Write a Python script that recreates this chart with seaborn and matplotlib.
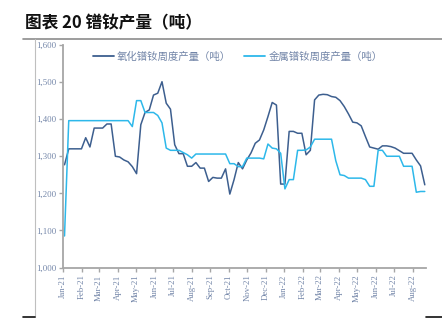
import matplotlib
matplotlib.use("Agg")
import matplotlib.pyplot as plt
import matplotlib.dates as mdates
from matplotlib.lines import Line2D
import seaborn as sns
import pandas as pd
import numpy as np

# ---- data ----
dates = pd.date_range("2021-01-03", periods=86, freq="7D")
oxide = [1277, 1320, 1320, 1320, 1320, 1350, 1325, 1376, 1376, 1376,
         1387, 1387, 1300, 1298, 1290, 1285, 1272, 1253, 1385, 1418,
         1425, 1465, 1470, 1501, 1443, 1427, 1331, 1307, 1307, 1273,
         1273, 1283, 1268, 1268, 1232, 1243, 1241, 1241, 1266, 1198,
         1237, 1283, 1266, 1290, 1309, 1335, 1344, 1371, 1407, 1445,
         1438, 1225, 1225, 1367, 1367, 1362, 1362, 1304, 1316, 1452,
         1465, 1467, 1466, 1461, 1459, 1450, 1434, 1414, 1392, 1390,
         1382, 1353, 1325, 1322, 1319, 1328, 1328, 1326, 1322, 1315,
         1308, 1308, 1308, 1290, 1274, 1223]
metal = [1085, 1396, 1396, 1396, 1396, 1396, 1396, 1396, 1396, 1396,
         1396, 1396, 1396, 1396, 1396, 1396, 1380, 1450, 1450, 1418,
         1418, 1418, 1410, 1390, 1322, 1316, 1316, 1316, 1310, 1304,
         1295, 1306, 1306, 1306, 1306, 1306, 1306, 1306, 1306, 1280,
         1280, 1272, 1272, 1295, 1295, 1295, 1295, 1293, 1333, 1322,
         1320, 1308, 1212, 1237, 1237, 1316, 1316, 1317, 1325, 1346,
         1346, 1346, 1346, 1346, 1288, 1250, 1248, 1241, 1241, 1241,
         1241, 1237, 1219, 1219, 1316, 1316, 1300, 1300, 1300, 1300,
         1273, 1273, 1273, 1203, 1205, 1205]
series_names = ["氧化镨钕周度产量（吨）", "金属镨钕周度产量（吨）"]
title_text = "图表 20 镨钕产量（吨）"
y_ticks = [1000, 1100, 1200, 1300, 1400, 1500, 1600]

df = pd.DataFrame({
    "date": list(dates) * 2,
    "value": oxide + metal,
    "series": [series_names[0]] * len(oxide) + [series_names[1]] * len(metal),
})

# ---- style ----
sns.set_theme(style="white")
plt.rcParams["font.family"] = ["Noto Sans CJK SC", "DejaVu Sans"]

colors = {series_names[0]: "#3D5F8F", series_names[1]: "#2DB8EA"}
axis_gray = "#A6A6A6"
label_col = "#7285A8"

fig = plt.figure(figsize=(4.42, 3.23), dpi=100)
ax = fig.add_axes([63.3 / 442, 1 - 267.5 / 323, (426 - 63.3) / 442, (267.5 - 45) / 323])

sns.lineplot(data=df, x="date", y="value", hue="series", palette=colors,
             linewidth=1.1, ax=ax, legend=False)

ax.set_ylim(1000, 1600)
ax.set_yticks(y_ticks)
ax.set_yticklabels([f"{v:,}" for v in y_ticks], fontfamily="Liberation Serif",
                   fontsize=6.3, color=label_col)
ax.set_xlim(pd.Timestamp("2021-01-01"), pd.Timestamp("2022-08-23"))
ax.xaxis.set_major_locator(mdates.MonthLocator())
ax.xaxis.set_major_formatter(mdates.DateFormatter("%b-%y"))
for lab in ax.get_xticklabels():
    lab.set_rotation(90)
    lab.set_fontfamily("Liberation Serif")
    lab.set_fontsize(6.3)
    lab.set_color(label_col)
ax.set_xlabel("")
ax.set_ylabel("")
ax.grid(False)
for s in ["top", "right"]:
    ax.spines[s].set_visible(False)
for s in ["left", "bottom"]:
    ax.spines[s].set_color(axis_gray)
    ax.spines[s].set_linewidth(1.3)
ax.tick_params(axis="both", which="major", direction="out", length=3,
               width=1, color=axis_gray, pad=2, left=True, bottom=True)

handles = [Line2D([0], [0], color=colors[n], lw=1.3) for n in series_names]
leg = ax.legend(handles, series_names, ncol=2, frameon=False,
                loc="center left", bbox_to_anchor=(0.071, 0.946),
                fontsize=7.5, handlelength=2.0, handletextpad=0.3,
                columnspacing=1.25, borderaxespad=0)
for t in leg.get_texts():
    t.set_color(label_col)

# ---- title and frame decorations ----
fig.text(25 / 442, 1 - 23 / 323, title_text, fontsize=12, fontweight="bold",
         va="center", ha="left", color="#111111")
fig.add_artist(Line2D([23 / 442, 1.0], [1 - 39 / 323] * 2, color="#8C8C8C", lw=1.2))
fig.add_artist(Line2D([35 / 442] * 2, [1 - 39 / 323, 1 - 316.5 / 323], color="#BFBFBF", lw=0.8))
fig.add_artist(Line2D([23 / 442, 35 / 442], [1 - 316.5 / 323] * 2, color="#111111", lw=1.2))
fig.add_artist(Line2D([426 / 442, 1.0], [1 - 316.5 / 323] * 2, color="#111111", lw=1.2))

fig.savefig("out.png", dpi=100)
